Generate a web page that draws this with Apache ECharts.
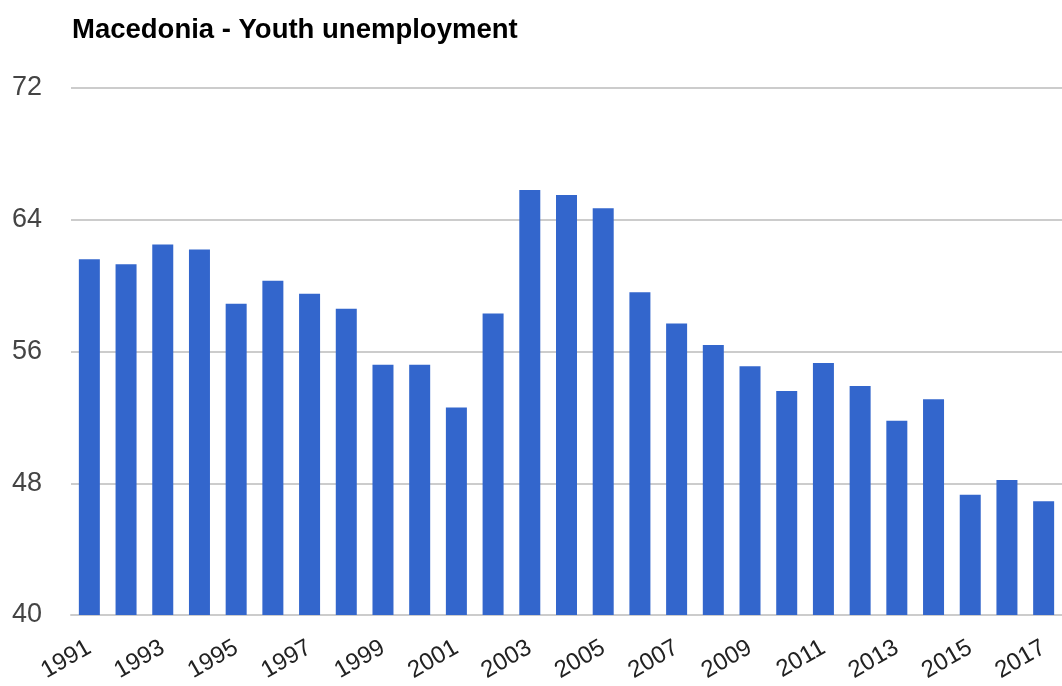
<!DOCTYPE html>
<html><head><meta charset="utf-8">
<script src="https://cdn.jsdelivr.net/npm/echarts@6/dist/echarts.min.js"></script>
<style>html,body{margin:0;padding:0;background:#fff}#c{width:1062px;height:686px}</style>
</head><body><div id="c"></div>
<script>
const titleText = 'Macedonia - Youth unemployment';
const years = ['1991','1992','1993','1994','1995','1996','1997','1998','1999','2000','2001','2002','2003','2004','2005','2006','2007','2008','2009','2010','2011','2012','2013','2014','2015','2016','2017'];
const values = [61.6,61.3,62.5,62.2,58.9,60.3,59.5,58.6,55.2,55.2,52.6,58.3,65.8,65.5,64.7,59.6,57.7,56.4,55.1,53.6,55.3,53.9,51.8,53.1,47.3,48.2,46.9];
const yTicks = [40,48,56,64,72];

const chart = echarts.init(document.getElementById('c'));
chart.setOption({
  animation:false,
  title:{text:titleText,left:67,top:11,textStyle:{fontFamily:'Liberation Sans, Arial',fontWeight:'bold',fontSize:27.5,color:'#000'}},
  grid:{left:71,top:88,width:992,height:527,containLabel:false},
  xAxis:{type:'category',data:years,
    axisTick:{show:false},
    axisLine:{lineStyle:{color:'#cccccc',width:2}},
    axisLabel:{interval:1,rotate:30,fontFamily:'Liberation Sans, Arial',fontSize:24,color:'#222',margin:31}},
  yAxis:{type:'value',min:yTicks[0],max:yTicks[yTicks.length-1],interval:8,
    axisLine:{show:false},axisTick:{show:false},
    splitLine:{lineStyle:{color:'#cccccc',width:2}},
    axisLabel:{fontFamily:'Liberation Sans, Arial',fontSize:27,color:'#444',margin:29}},
  series:[{type:'bar',data:values,barWidth:21,itemStyle:{color:'#3366cc'}}]
});
</script></body></html>
